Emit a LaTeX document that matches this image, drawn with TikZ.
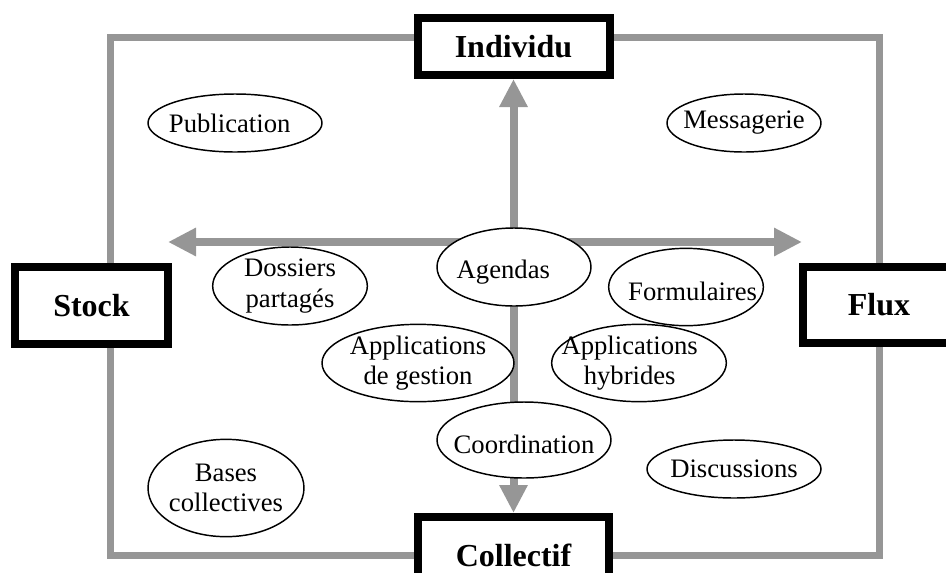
\documentclass[tikz,border=0pt]{standalone}
\usepackage{fontspec}
\setmainfont{Liberation Serif}
\usetikzlibrary{arrows.meta,shapes.geometric}
\definecolor{axisgray}{RGB}{150,150,150}

\begin{document}
\begin{tikzpicture}[x=0.75pt,y=-0.75pt,font=\fontsize{20}{23}\selectfont]
\tikzset{frame/.style = {draw=axisgray, line width=5.25pt}}
\tikzset{edge/.style = {-{Triangle[length=21pt,width=20pt]}, draw=axisgray, line width=6pt}}
\tikzset{pole/.style = {draw, fill=white, line width=6pt, inner sep=0pt, font=\fontsize{24}{28}\selectfont\bfseries}}
\tikzset{usage/.style = {draw, ellipse, fill=white, line width=1.1pt, inner sep=0pt}}
\tikzset{every label/.style = {align=center}}
\useasboundingbox (0,0) rectangle (946,572);

\draw[frame] (110,37) rectangle (879,555);

\node[pole, minimum width=144pt, minimum height=42.75pt] (ind) at (513.5,46.5) {Individu};
\node[pole, minimum width=143.25pt, minimum height=57.75pt] (col) at (513.5,555.5) {Collectif};
\node[pole, minimum width=114.75pt, minimum height=57.75pt] (sto) at (91.5,305.5) {Stock};
\node[pole, minimum width=114pt, minimum height=57pt] (flu) at (879,305) {Flux};

\coordinate (o) at (513.5,242);
\coordinate (w) at (168,242);
\coordinate (e) at (802,242);
\draw[edge] (o) -- (ind);
\draw[edge] (o) -- (col);
\draw[edge] (o) -- (w);
\draw[edge] (o) -- (e);

\node[usage, minimum width=130.5pt, minimum height=43.5pt, label={[xshift=-4pt]center:Publication}] (pub) at (235,123) {};
\node[usage, minimum width=115.5pt, minimum height=43.5pt, label={center:Messagerie}] (mes) at (744,123) {};
\node[usage, minimum width=116pt, minimum height=58.5pt, label={center:Dossiers\\partagés}] (dos) at (290,286) {};
\node[usage, minimum width=115.5pt, minimum height=58.5pt, label={[xshift=-8pt,yshift=-4pt]center:Agendas}] (age) at (514,267) {};
\node[usage, minimum width=116pt, minimum height=58pt, label={[xshift=5pt,yshift=-3pt]center:Formulaires}] (for) at (686,287) {};
\node[usage, minimum width=144pt, minimum height=58pt, label={center:Applications\\de gestion}] (ges) at (418,363) {};
\node[usage, minimum width=131pt, minimum height=58pt, label={[xshift=-7pt]center:Applications\\hybrides}] (hyb) at (639,363) {};
\node[usage, minimum width=130.5pt, minimum height=57pt, label={[yshift=-3pt]center:Coordination}] (coo) at (524,440) {};
\node[usage, minimum width=130.5pt, minimum height=43.5pt, label={center:Discussions}] (dis) at (734,469) {};
\node[usage, minimum width=117pt, minimum height=73pt, label={center:Bases\\collectives}] (bas) at (226,488) {};
\end{tikzpicture}
\end{document}
